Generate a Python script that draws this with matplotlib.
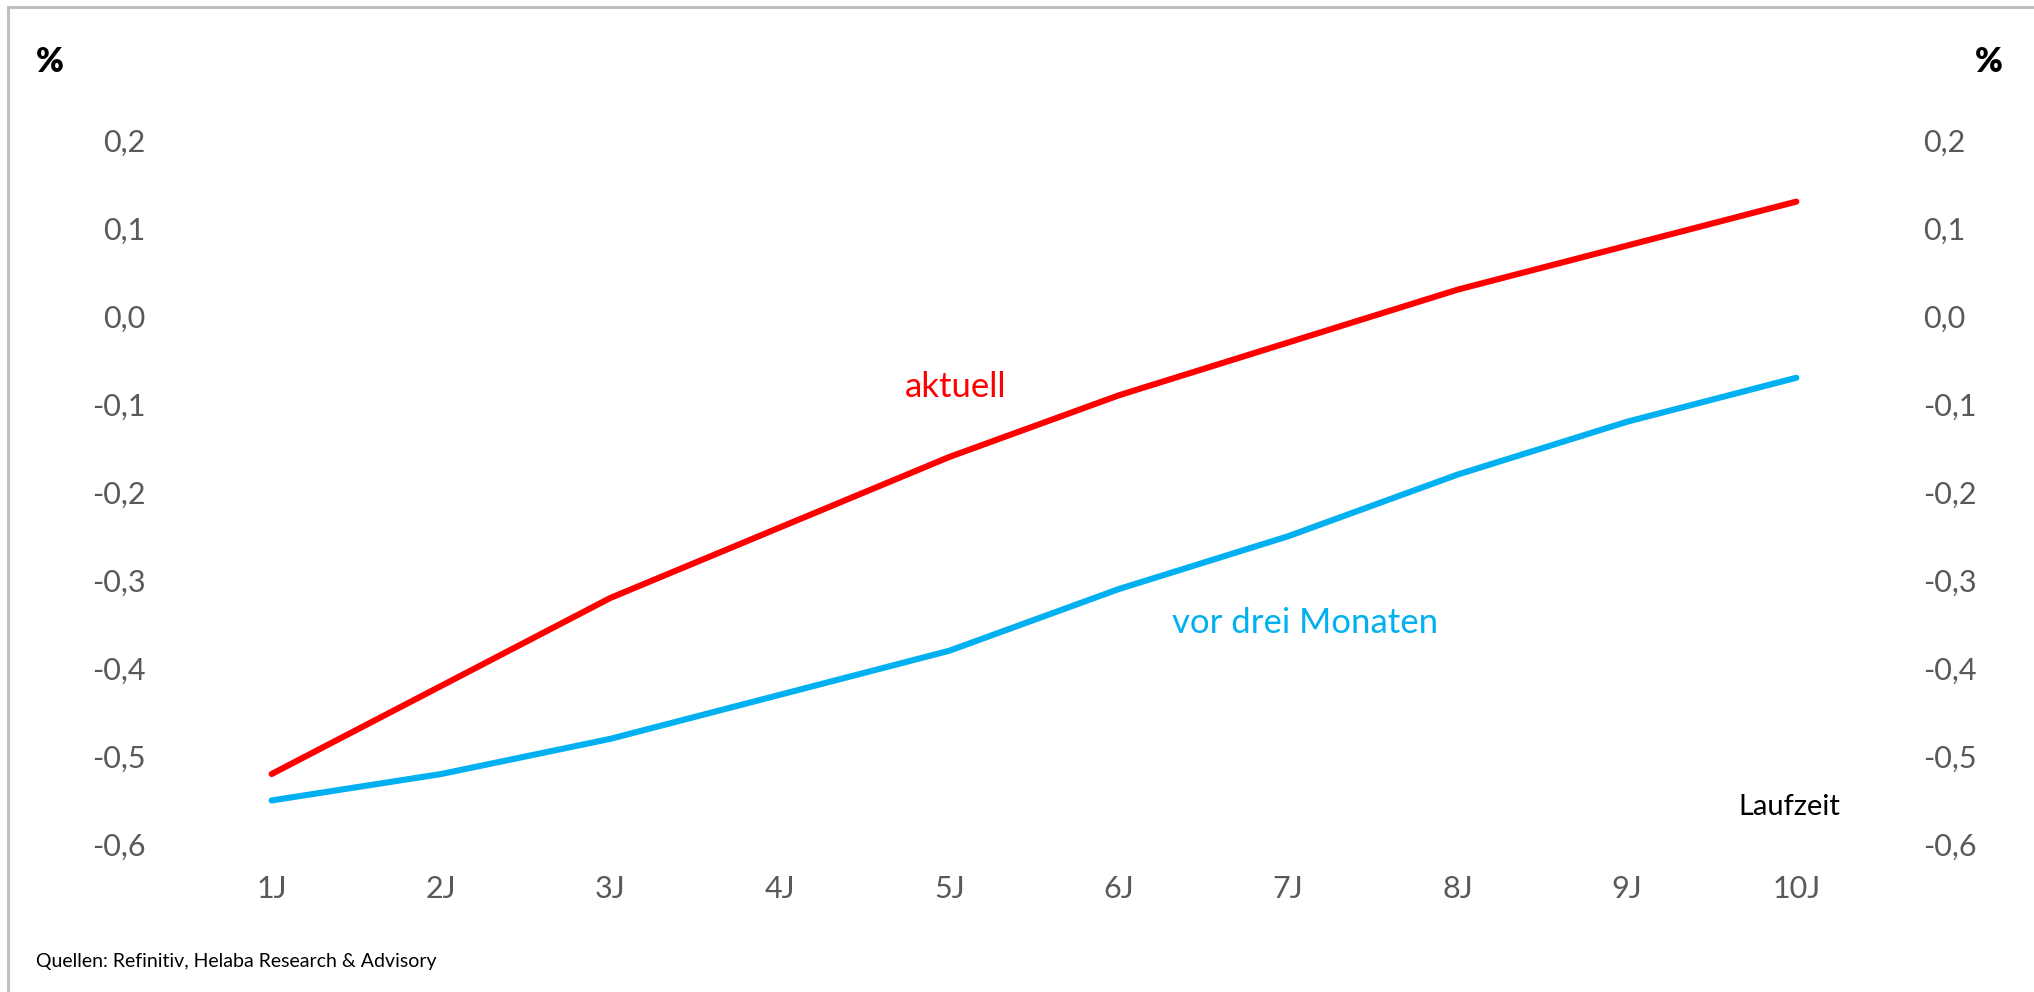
import matplotlib.pyplot as plt
from matplotlib.lines import Line2D
from matplotlib.ticker import FuncFormatter

# Renditestruktur: Laufzeiten 1 bis 10 Jahre
laufzeiten = ["1J", "2J", "3J", "4J", "5J", "6J", "7J", "8J", "9J", "10J"]
aktuell = [-0.52, -0.42, -0.32, -0.24, -0.16, -0.09, -0.03, 0.03, 0.08, 0.13]
vor_drei_monaten = [-0.55, -0.52, -0.48, -0.43, -0.38, -0.31, -0.25, -0.18, -0.12, -0.07]
y_ticks = [-0.6, -0.5, -0.4, -0.3, -0.2, -0.1, 0.0, 0.1, 0.2]

ROT = "#ff0000"
BLAU = "#00b0f0"
GRAU = "#595959"

plt.rcParams['font.family'] = ['Lato', 'DejaVu Sans']

fig = plt.figure(figsize=(20.34, 9.92), dpi=100)
ax = fig.add_axes([0.0919, 0.1487, 0.8329, 0.7102])

x = list(range(len(laufzeiten)))
ax.plot(x, aktuell, color=ROT, lw=4.4, solid_capstyle='round', solid_joinstyle='round')
ax.plot(x, vor_drei_monaten, color=BLAU, lw=4.4, solid_capstyle='round', solid_joinstyle='round')

ax.set_xlim(-0.5, len(laufzeiten) - 0.5)
ax.set_ylim(-0.6, 0.2)
ax.set_xticks(x)
ax.set_xticklabels(laufzeiten)
ax.set_yticks(y_ticks)

komma = FuncFormatter(lambda v, pos: f"{v:.1f}".replace(".", ",").replace("-0,0", "0,0"))
ax.yaxis.set_major_formatter(komma)
ax.tick_params(axis='both', length=0, labelsize=22, labelcolor=GRAU)
ax.tick_params(axis='y', pad=30, labelleft=True, labelright=True)
ax.tick_params(axis='x', pad=22)
for side in ax.spines.values():
    side.set_visible(False)

# Beschriftung der Kurven direkt im Diagramm
ax.text(4.04, -0.08, "aktuell", color=ROT, fontsize=25, ha='center', va='center')
ax.text(6.10, -0.348, "vor drei Monaten", color=BLAU, fontsize=25, ha='center', va='center')
ax.text(8.96, -0.557, "Laufzeit", color="black", fontsize=21, ha='center', va='center')

fig.text(0.0245, 0.937, "%", fontsize=24, fontweight='heavy', ha='center', va='center')
fig.text(0.978, 0.937, "%", fontsize=24, fontweight='heavy', ha='center', va='center')
fig.text(0.0175, 0.031, "Quellen: Refinitiv, Helaba Research & Advisory", fontsize=14,
         ha='left', va='center')

# Rahmen oben und links
fig.add_artist(Line2D([0.0039, 1.0], [0.9929, 0.9929], color="#c0c0c0", lw=2.2,
                      transform=fig.transFigure))
fig.add_artist(Line2D([0.0039, 0.0039], [0.0, 0.9929], color="#c0c0c0", lw=2.2,
                      transform=fig.transFigure))

fig.savefig("out.png", dpi=100)
